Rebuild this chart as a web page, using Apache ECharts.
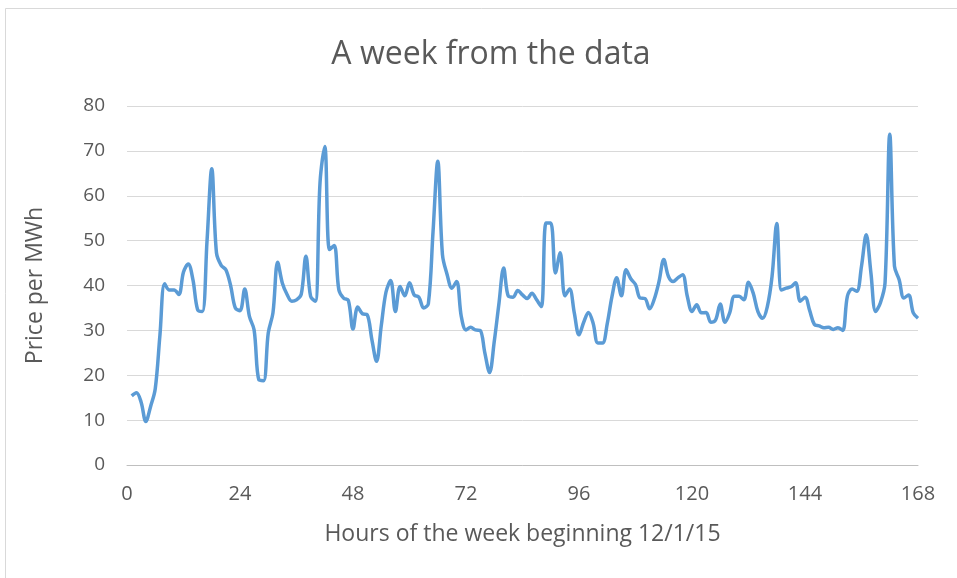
<!DOCTYPE html>
<html>
<head>
<meta charset="utf-8">
<script src="https://cdn.jsdelivr.net/npm/echarts@6/dist/echarts.min.js"></script>
<style>
  html, body { margin: 0; padding: 0; background: #fff; }
  #main { width: 957px; height: 578px; }
</style>
</head>
<body>
<div id="main"></div>
<script>
// hourly price, hours 1..168 of the week
var prices = [
  15.4, 16.1, 14, 9.7, 13, 17, 29, 40.4, 39, 39,
  38, 43, 44.8, 41.3, 34.6, 34.2, 50, 66, 47.3, 44.5,
  43.5, 40, 35, 34.4, 39.2, 33.1, 30.1, 19, 18.8, 29.4,
  33.9, 45.2, 40.5, 38, 36.5, 36.8, 38, 46.5, 37.6, 36.5,
  63, 71, 48, 48.9, 39, 37.2, 36.7, 30.3, 35.2, 33.7,
  33.5, 28, 23.1, 31, 38.5, 41.1, 34.2, 39.8, 37.7, 40.6,
  37.9, 37.4, 35, 35.9, 52, 67.7, 46.9, 42.4, 39.4, 40.9,
  33.1, 30.1, 30.7, 30.1, 30, 25, 20.6, 27.5, 36, 43.9,
  37.6, 37.4, 38.9, 37.9, 37.1, 38.3, 36.8, 35.3, 53.9, 53.9,
  42.8, 47.3, 37.7, 39.2, 33.9, 29, 31.8, 34, 31.6, 27.2,
  27.2, 31.5, 37.5, 41.7, 37.7, 43.5, 41.5, 40.2, 37.2, 37.1,
  34.8, 37, 40.9, 45.8, 42, 40.9, 41.7, 42.4, 37.6, 34.2,
  35.7, 33.9, 34, 31.8, 32.3, 35.9, 31.8, 33.9, 37.6, 37.6,
  36.8, 40.7, 38.3, 34.2, 32.7, 35.3, 42, 53.8, 39, 39.4,
  39.7, 40.6, 36.5, 37.4, 34.4, 31.3, 31, 30.6, 30.7, 30.2,
  30.6, 30, 37.6, 39.2, 38.7, 44.3, 51.3, 42.8, 34.2, 36.1,
  40.6, 73.7, 44.3, 41.3, 37.2, 37.9, 33.9, 32.7
];
var hours = [];
for (var i = 0; i < prices.length; i++) {
    hours.push(i + 1);
}

var chart = echarts.init(document.getElementById('main'));
var font = 'Open Sans';
var grey = '#595959';

var option = {
    backgroundColor: '#fff',
    animation: false,
    graphic: [{
        type: 'rect',
        shape: {x: 5.5, y: 8.5, width: 1000, height: 1000},
        style: {fill: 'none', stroke: '#D9D9D9', lineWidth: 1}
    }],
    title: {
        text: 'A week from the data',
        left: 486,
        top: 34,
        textAlign: 'center',
        textStyle: {color: grey, fontFamily: font, fontSize: 32, fontWeight: 'normal'}
    },
    grid: {left: 127, right: 39, top: 106, bottom: 113},
    xAxis: {
        type: 'value',
        min: 0,
        max: 168,
        interval: 24,
        name: 'Hours of the week beginning 12/1/15',
        nameLocation: 'middle',
        nameGap: 58,
        nameTextStyle: {color: grey, fontFamily: font, fontSize: 23},
        axisLine: {lineStyle: {color: '#BFBFBF', width: 1}},
        axisTick: {show: false},
        splitLine: {show: false},
        axisLabel: {color: grey, fontFamily: font, fontSize: 20, margin: 19}
    },
    yAxis: {
        type: 'value',
        min: 0,
        max: 80,
        interval: 10,
        name: 'Price per MWh',
        nameLocation: 'middle',
        nameGap: 80,
        nameTextStyle: {color: grey, fontFamily: font, fontSize: 23},
        axisLine: {show: false},
        axisTick: {show: false},
        splitLine: {lineStyle: {color: '#D9D9D9', width: 1}},
        axisLabel: {color: grey, fontFamily: font, fontSize: 19, margin: 22}
    },
    series: [{
        type: 'line',
        data: hours.map(function (h, i) { return [h, prices[i]]; }),
        smooth: 0.35,
        showSymbol: false,
        lineStyle: {color: '#5B9BD5', width: 3.5}
    }]
};
chart.setOption(option);
</script>
</body>
</html>
